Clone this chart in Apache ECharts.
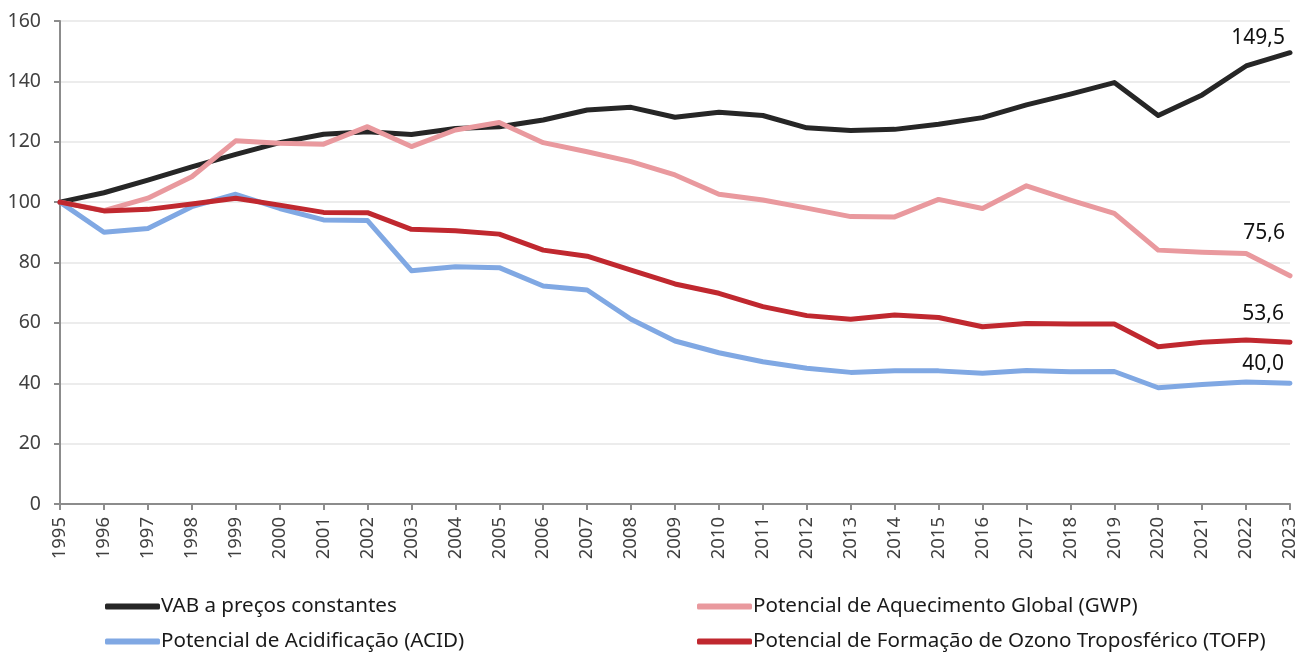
<!DOCTYPE html>
<html>
<head>
<meta charset="utf-8">
<script src="https://cdn.jsdelivr.net/npm/echarts@6/dist/echarts.min.js"></script>
<style>
html,body{margin:0;padding:0;background:#fff;}
#chart{width:1308px;height:652px;}
</style>
</head>
<body>
<div id="chart"></div>
<script>
const years = ['1995','1996','1997','1998','1999','2000','2001','2002','2003','2004','2005','2006','2007','2008','2009','2010','2011','2012','2013','2014','2015','2016','2017','2018','2019','2020','2021','2022','2023'];
const vab  = [100,103.1,107.3,111.7,115.8,119.7,122.5,123.3,122.4,124.4,125.0,127.2,130.5,131.4,128.1,129.8,128.7,124.6,123.7,124.1,125.8,128.0,132.2,135.8,139.6,128.7,135.5,145.1,149.5];
const gwp  = [100,97.2,101.3,108.4,120.3,119.5,119.2,125.0,118.4,123.9,126.4,119.7,116.7,113.4,109.0,102.6,100.7,98.0,95.2,95.1,100.9,97.9,105.4,100.7,96.3,84.1,83.4,83.0,75.6];
const acid = [100,90.0,91.3,98.5,102.6,97.9,94.1,93.9,77.3,78.6,78.3,72.2,70.9,61.2,54.0,50.1,47.1,45.0,43.6,44.1,44.1,43.3,44.2,43.8,43.9,38.5,39.6,40.4,40.0];
const tofp = [100,97.1,97.6,99.4,101.3,99.0,96.6,96.5,91.0,90.5,89.4,84.1,82.1,77.5,72.9,69.8,65.4,62.4,61.2,62.6,61.8,58.7,59.8,59.6,59.6,52.1,53.6,54.3,53.6];
const seriesNames = ['VAB a preços constantes','Potencial de Aquecimento Global (GWP)','Potencial de Acidificação (ACID)','Potencial de Formação de Ozono Troposférico (TOFP)'];
const yTicks = [0,20,40,60,80,100,120,140,160];

const colors = ['#262626','#E9999E','#80A8E3','#C0282F'];
// label anchor relative to last point's symbol box (px)
const labelPos = [[-4,-14],[-4,-42],[-5,-18],[-5,-27]];
const FONT = '"Noto Sans", "Open Sans", sans-serif';

function withEndLabel(arr, idx){
  return arr.map((v,i)=>{
    if(i !== arr.length-1) return v;
    return {value:v, symbol:'circle', symbolSize:2, itemStyle:{color:'rgba(0,0,0,0)'},
      label:{show:true, position:labelPos[idx], align:'right', verticalAlign:'middle',
      fontSize:21, color:'#111', fontFamily:FONT,
      formatter:(p)=>Number(p.value).toFixed(1).replace('.',',')}};
  });
}

const allData = [vab,gwp,acid,tofp];
const series = allData.map((d,i)=>({
  name:seriesNames[i], type:'line', data:withEndLabel(d,i),
  symbol:'none', showSymbol:true, smooth:false,
  lineStyle:{width:5, color:colors[i], cap:'round', join:'round'},
  itemStyle:{color:colors[i]},
  emphasis:{disabled:true}
}));
series[0].z = 3; series[1].z = 4; series[2].z = 2; series[3].z = 5;

const legendPos = [[105,596],[697,596],[105,631],[697,631]];
const legends = seriesNames.map((n,i)=>({
  data:[{name:n, itemStyle:{color:colors[i]}}], left:legendPos[i][0], top:legendPos[i][1], padding:0,
  icon:'roundRect', itemWidth:55, itemHeight:6, itemGap:0,
  textStyle:{fontSize:20.6, color:'#1a1a1a', fontFamily:FONT, padding:[0,0,0,-4]},
  selectedMode:false
}));

const chart = echarts.init(document.getElementById('chart'), null, {renderer:'canvas'});
chart.setOption({
  animation:false,
  backgroundColor:'#fff',
  grid:{left:60, right:18, top:21, bottom:148, containLabel:false},
  legend:legends,
  xAxis:{
    type:'category', data:years, boundaryGap:false,
    axisLine:{lineStyle:{color:'#8c8c8c', width:2}},
    axisTick:{show:true, alignWithLabel:true, length:6, lineStyle:{color:'#8c8c8c', width:2}},
    axisLabel:{rotate:90, fontSize:18.5, color:'#404040', fontFamily:FONT, margin:13, interval:0},
    splitLine:{show:false}
  },
  yAxis:{
    type:'value', min:yTicks[0], max:yTicks[yTicks.length-1], interval:20,
    axisLine:{show:true, lineStyle:{color:'#8c8c8c', width:2}},
    axisTick:{show:true, length:6, lineStyle:{color:'#8c8c8c', width:2}},
    axisLabel:{fontSize:19.5, color:'#404040', fontFamily:FONT, margin:19},
    splitLine:{show:true, lineStyle:{color:'#ececec', width:2}}
  },
  series:series
});
</script>
</body>
</html>
